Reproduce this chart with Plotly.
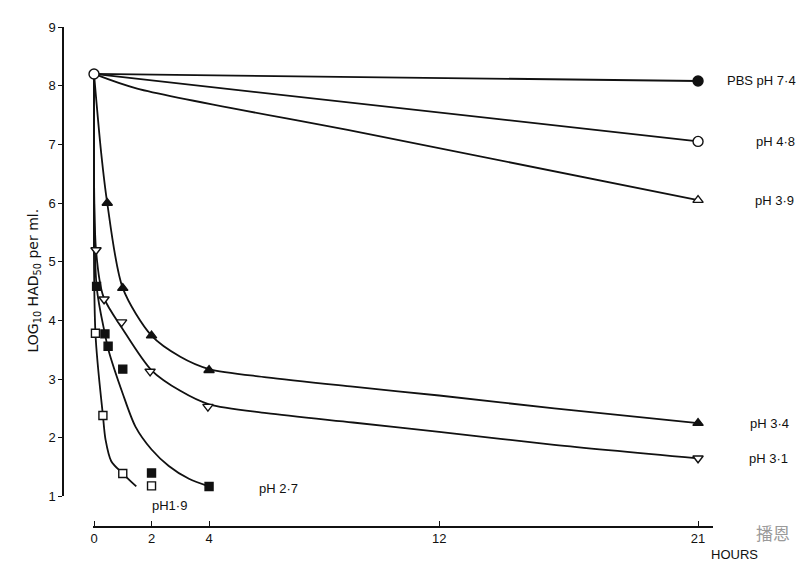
import plotly.graph_objects as go

# ---------------- data ----------------
start_hours = [0]
start_log = [8.2]

# measured points
pbs_hours = [21];                 pbs_log = [8.08]
ph48_hours = [21];                ph48_log = [7.05]
ph39_hours = [21];                ph39_log = [6.05]
ph34_hours = [0.46, 1, 2, 4, 21]; ph34_log = [6.0, 4.55, 3.74, 3.15, 2.25]
ph31_hours = [0.07, 0.35, 0.96, 1.95, 3.96, 21]
ph31_log = [5.2, 4.36, 3.97, 3.13, 2.53, 1.65]
ph27_hours = [0.09, 0.38, 0.49, 1.0, 2.0, 4.0]
ph27_log = [4.58, 3.77, 3.56, 3.17, 1.4, 1.17]
ph19_hours = [0.05, 0.31, 1.0, 2.0]
ph19_log = [3.78, 2.38, 1.39, 1.18]

# hand-drawn curves
pbs_cx = [0, 21];                    pbs_cy = [8.2, 8.08]
ph48_cx = [0, 21];                   ph48_cy = [8.2, 7.05]
ph39_cx = [0, 1.5, 9.6, 21];         ph39_cy = [8.2, 7.95, 7.17, 6.05]
ph34_cx = [0, 0.25, 0.46, 1, 2, 3, 4, 6, 9, 12, 16, 21]
ph34_cy = [8.2, 6.85, 6.0, 4.55, 3.74, 3.38, 3.17, 3.03, 2.87, 2.72, 2.5, 2.25]
ph31_cx = [0, 0.07, 0.33, 1, 2, 3, 4, 6, 9, 12, 16, 21]
ph31_cy = [8.2, 5.2, 4.4, 3.85, 3.15, 2.8, 2.57, 2.42, 2.26, 2.1, 1.88, 1.65]
ph27_cx = [0, 0.09, 0.38, 0.5, 1, 1.44, 2, 2.6, 3.3, 4]
ph27_cy = [8.2, 4.58, 3.77, 3.5, 2.75, 2.19, 1.8, 1.52, 1.3, 1.17]
ph19_cx = [0, 0.05, 0.31, 0.4, 0.6, 1, 1.47]
ph19_cy = [8.2, 3.78, 2.38, 1.97, 1.6, 1.39, 1.17]

x_ticks = [0, 2, 4, 12, 21]
x_tick_labels = ["0", "2", "4", "12", "21"]
y_ticks = [1, 2, 3, 4, 5, 6, 7, 8, 9]

end_labels = [
    ("PBS pH 7·4", 8.08, 27),
    ("pH 4·8", 7.05, 56),
    ("pH 3·9", 6.05, 55),
    ("pH 3·4", 2.25, 50),
    ("pH 3·1", 1.65, 49),
]

# ---------------- figure ----------------
FONT = "Liberation Sans"
INK = "#111111"
fig = go.Figure()

curves = [(pbs_cx, pbs_cy), (ph48_cx, ph48_cy), (ph39_cx, ph39_cy),
          (ph34_cx, ph34_cy), (ph31_cx, ph31_cy), (ph27_cx, ph27_cy),
          (ph19_cx, ph19_cy)]
for cx, cy in curves:
    fig.add_trace(go.Scatter(x=cx, y=cy, mode="lines",
                             line=dict(color=INK, width=1.8, shape="spline", smoothing=0.8),
                             hoverinfo="skip", cliponaxis=False))

def pts(x, y, symbol, filled, size=9):
    fig.add_trace(go.Scatter(
        x=x, y=y, mode="markers", cliponaxis=False,
        marker=dict(symbol=symbol, size=size,
                    color=INK if filled else "white",
                    line=dict(color=INK, width=1.4))))

pts(start_hours, start_log, "circle", False, 10)
pts(pbs_hours, pbs_log, "circle", True, 10)
pts(ph48_hours, ph48_log, "circle", False, 10)
pts(ph39_hours, ph39_log, "triangle-up", False, 9)
pts(ph34_hours, ph34_log, "triangle-up", True, 9)
pts(ph31_hours, ph31_log, "triangle-down", False, 9)
pts(ph27_hours, ph27_log, "square", True, 8)
pts(ph19_hours, ph19_log, "square", False, 8)

lab_font = dict(family=FONT, size=13, color=INK)
annotations = []
for text, yv, shift in end_labels:
    annotations.append(dict(x=21, y=yv, xref="x", yref="y", text=text,
                            showarrow=False, xanchor="left", yanchor="middle",
                            xshift=shift, font=lab_font))
annotations.append(dict(x=5.67, y=1.13, xref="x", yref="y", text="pH 2·7",
                        showarrow=False, xanchor="left", yanchor="middle", font=lab_font))
annotations.append(dict(x=0.1338, y=0.0434, xref="paper", yref="paper", text="pH1·9",
                        showarrow=False, xanchor="left", yanchor="middle", font=lab_font))
annotations.append(dict(x=1.0338, y=-0.0552, xref="paper", yref="paper", text="HOURS",
                        showarrow=False, xanchor="center", yanchor="middle", font=lab_font))
annotations.append(dict(x=-0.0431, y=4.68, xref="paper", yref="y",
                        text="LOG<sub>10</sub> HAD<sub>50</sub> per ml.",
                        textangle=-90, showarrow=False, xanchor="center", yanchor="middle",
                        font=dict(family="DejaVu Sans", size=14, color=INK)))
annotations.append(dict(x=1.0923, y=-0.0118, xref="paper", yref="paper", text="播恩",
                        showarrow=False, xanchor="center", yanchor="middle",
                        font=dict(family="Noto Sans CJK SC", size=17, color="#9a9a9a")))

fig.update_layout(
    width=808, height=561,
    margin=dict(l=55, r=103, t=12, b=42),
    paper_bgcolor="white", plot_bgcolor="white",
    showlegend=False,
    annotations=annotations,
    xaxis=dict(domain=[30 / 650, 1], range=[-0.035, 21.52], anchor="free", position=0,
               tickvals=x_ticks, ticktext=x_tick_labels, ticks="inside", ticklen=5,
               tickcolor=INK, showline=True, linecolor=INK, linewidth=1.5,
               showgrid=False, zeroline=False,
               tickfont=dict(family=FONT, size=13, color=INK)),
    yaxis=dict(domain=[31 / 507, 1], range=[1, 9], anchor="free", position=0,
               tickvals=y_ticks, ticks="outside", ticklen=4, tickcolor=INK,
               showline=True, linecolor=INK, linewidth=1.5,
               showgrid=False, zeroline=False,
               tickfont=dict(family=FONT, size=13, color=INK)),
)

fig.write_html("out.html")
